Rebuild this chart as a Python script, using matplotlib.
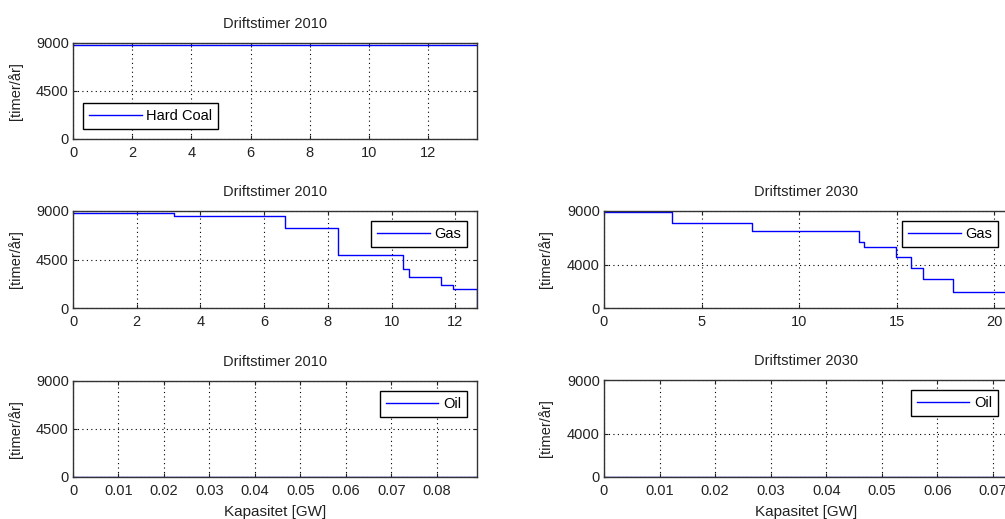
import matplotlib
matplotlib.use("Agg")
import matplotlib.pyplot as plt
import numpy as np

plt.rcParams['font.family'] = ['Liberation Sans', 'DejaVu Sans']
plt.rcParams['font.size'] = 10.5

# kapasitet-grenser [GW] og driftstimer [timer/år] per trinn
coal10_x = [0, 13.65]
coal10_h = [8800]

gas10_x = [0, 3.18, 6.66, 8.31, 10.35, 10.56, 11.55, 11.92, 12.68]
gas10_h = [8850, 8550, 7450, 4930, 3630, 2890, 2110, 1740]

gas30_x = [0, 3.46, 7.6, 13.04, 13.33, 14.97, 15.72, 16.34, 17.86, 20.7]
gas30_h = [8880, 7920, 7180, 6130, 5640, 4690, 3700, 2710, 1480]

oil10_x = [0, 0.0888]
oil10_h = [0]

oil30_x = [0, 0.0727]
oil30_h = [0]

W, H = 1005, 519
fig = plt.figure(figsize=(W / 100, H / 100), dpi=100)
TXT = '#222222'

def px_axes(x0, y_top, y_bot, w=404):
    return fig.add_axes([x0 / W, 1 - y_bot / H, w / W, (y_bot - y_top) / H])

def panel(ax, xs, hs, title, name, yticks, xticks, loc, xlabel=None, drop=True):
    xs = np.array(xs, dtype=float)
    if drop:
        ys = np.append(hs, 0)
    else:
        ys = np.append(hs, hs[-1])
    ax.step(xs, ys, where='post', color=(0, 0, 1), lw=1.0, label=name)
    ax.set_xlim(0, xs[-1])
    ax.set_ylim(0, 9000)
    ax.set_yticks(yticks)
    ax.set_xticks(xticks)
    ax.set_xticklabels([('%g' % t) for t in xticks])
    ax.grid(True, color='black', linestyle=(0, (1, 3)), lw=0.8)
    ax.tick_params(direction='in', top=True, right=True, length=3,
                   labelsize=10.5, colors=TXT)
    ax.tick_params(axis='x', pad=5)
    ax.tick_params(axis='y', pad=3)
    for s in ax.spines.values():
        s.set_linewidth(1.0)
        s.set_color('#333333')
    ax.set_title(title, fontsize=10.5, pad=11, color=TXT)
    ax.set_ylabel('[timer/år]', fontsize=10.5, color=TXT)
    ax.yaxis.set_label_coords(-0.125, 0.5)
    if xlabel:
        ax.set_xlabel(xlabel, fontsize=11, labelpad=5, color=TXT)
    leg = ax.legend(loc=loc, handlelength=3.6, fontsize=10.5, fancybox=False,
                    borderpad=0.4, handletextpad=0.3, framealpha=1,
                    borderaxespad=0.7)
    leg.get_frame().set_edgecolor('black')
    leg.get_frame().set_linewidth(1.0)

ax1 = px_axes(73, 43, 139)
panel(ax1, coal10_x, coal10_h, 'Driftstimer 2010', 'Hard Coal',
      [0, 4500, 9000], np.arange(0, 13, 2), 'lower left', drop=False)

ax2 = px_axes(73, 211, 308)
panel(ax2, gas10_x, gas10_h, 'Driftstimer 2010', 'Gas',
      [0, 4500, 9000], np.arange(0, 13, 2), 'upper right')

ax3 = px_axes(73, 381, 477)
panel(ax3, oil10_x, oil10_h, 'Driftstimer 2010', 'Oil',
      [0, 4500, 9000], np.round(np.arange(0, 0.081, 0.01), 2), 'upper right',
      xlabel='Kapasitet [GW]', drop=False)

ax4 = px_axes(604, 211, 308)
panel(ax4, gas30_x, gas30_h, 'Driftstimer 2030', 'Gas',
      [0, 4000, 9000], np.arange(0, 21, 5), 'upper right')

ax5 = px_axes(604, 380, 477)
panel(ax5, oil30_x, oil30_h, 'Driftstimer 2030', 'Oil',
      [0, 4000, 9000], np.round(np.arange(0, 0.071, 0.01), 2), 'upper right',
      xlabel='Kapasitet [GW]', drop=False)

fig.savefig('out.png', dpi=100)
